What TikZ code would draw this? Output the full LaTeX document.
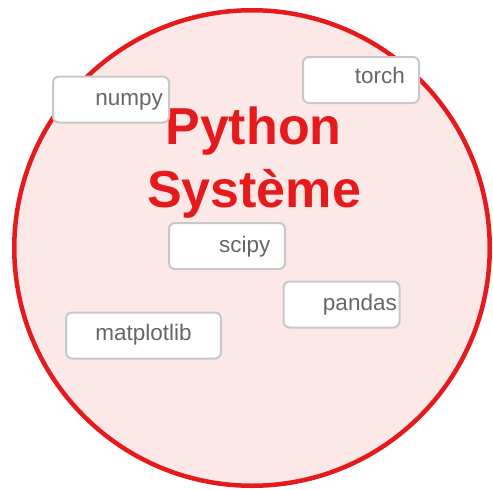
\documentclass[tikz,border=0pt]{standalone}
\usepackage{fontspec}
\setmainfont{Liberation Sans}
\usetikzlibrary{positioning}
\definecolor{sysred}{RGB}{228,26,28}
\definecolor{syspink}{RGB}{253,232,232}
\definecolor{pkgline}{RGB}{200,200,200}
\definecolor{pkgtext}{RGB}{102,102,102}

\begin{document}
\begin{tikzpicture}[x=1pt,y=-1pt,
    pkg/.style={rectangle,rounded corners=6pt,draw=pkgline,line width=2pt,fill=white,minimum width=116pt,minimum height=46pt,inner sep=0pt},
    pkgname/.style={text=pkgtext,font=\fontsize{22.5}{27}\selectfont,inner sep=0pt},
    systitle/.style={text=sysred,font=\fontsize{52}{62}\selectfont\bfseries,inner sep=0pt}]
    \useasboundingbox (0,0) rectangle (493,490);
    \node[circle,draw=sysred,fill=syspink,line width=4.5pt,minimum size=475.5pt,inner sep=0pt](sys) at (252,248){};
    \node[systitle,anchor=base](python) at (253.5,144){Python};
    \node[systitle,anchor=base](systeme) at (254,207){Système};
    % packages
    \node[pkg](numpy) at (111,99.5){};
    \node[pkgname,anchor=base east](numpyname) at (163,105){numpy};
    \node[pkg](torch) at (361,80){};
    \node[pkgname,anchor=base east](torchname) at (405,83){torch};
    \node[pkg](scipy) at (227,246){};
    \node[pkgname,anchor=base east](scipyname) at (270.5,252){scipy};
    \node[pkg](pandas) at (341.5,304.5){};
    \node[pkgname,anchor=base east](pandasname) at (397,310){pandas};
    \node[pkg,minimum width=155pt](matplotlib) at (143.5,335.5){};
    \node[pkgname,anchor=base](matplotlibname) at (143.5,340){matplotlib};
\end{tikzpicture}
\end{document}
